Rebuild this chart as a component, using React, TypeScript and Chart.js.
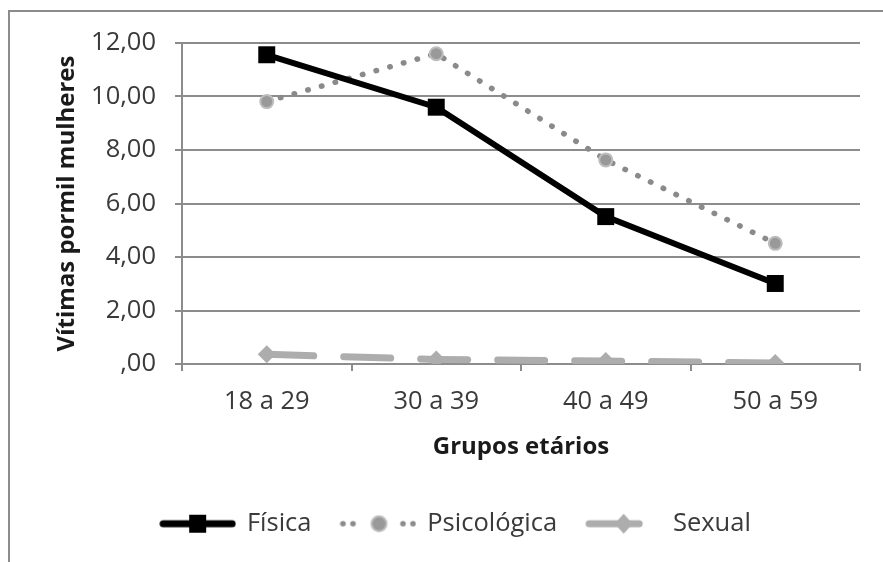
import React, { useEffect, useRef } from "react";
import { Chart, registerables } from "chart.js";

Chart.register(...registerables);

const categories = ["18 a 29", "30 a 39", "40 a 49", "50 a 59"];
const fisica = [11.56, 9.6, 5.51, 3.01];
const psicologica = [9.81, 11.6, 7.63, 4.51];
const sexual = [0.36, 0.17, 0.11, 0.04];
const seriesNames = ["Física", "Psicológica", "Sexual"];
const yTickLabels = [",00", "2,00", "4,00", "6,00", "8,00", "10,00", "12,00"];
const yTitle = "Vítimas pormil mulheres";
const xTitle = "Grupos etários";

const FONT = "'Open Sans', 'Noto Sans', sans-serif";
const GRID = "#8c8c8c";
const TEXT = "#3a3a3a";
const TITLE = "#1a1a1a";
const C_FIS = "#000000";
const C_PSI_LINE = "#8a8a8a";
const C_PSI_PT = "#999999";
const C_PSI_RING = "#bdbdbd";
const C_SEX = "#adadad";

function makeSample(kind: number): HTMLCanvasElement {
  const w = 77, h = 26;
  const c = document.createElement("canvas");
  c.width = w;
  c.height = h;
  const ctx = c.getContext("2d")!;
  const cy = h / 2;
  const cx = w / 2;
  if (kind === 0) {
    ctx.strokeStyle = C_FIS;
    ctx.lineWidth = 7;
    ctx.lineCap = "round";
    ctx.beginPath();
    ctx.moveTo(4, cy);
    ctx.lineTo(w - 4, cy);
    ctx.stroke();
    ctx.fillStyle = C_FIS;
    ctx.fillRect(cx - 8.5, cy - 9, 17, 18);
  } else if (kind === 1) {
    ctx.fillStyle = C_PSI_LINE;
    [-35, -25, 25, 35].forEach((d) => {
      ctx.beginPath();
      ctx.arc(cx + d, cy, 2.8, 0, Math.PI * 2);
      ctx.fill();
    });
    ctx.beginPath();
    ctx.arc(cx + 1, cy, 8.5, 0, Math.PI * 2);
    ctx.fillStyle = C_PSI_RING;
    ctx.fill();
    ctx.beginPath();
    ctx.arc(cx + 1, cy, 6.5, 0, Math.PI * 2);
    ctx.fillStyle = C_PSI_PT;
    ctx.fill();
  } else {
    ctx.strokeStyle = C_SEX;
    ctx.lineWidth = 7;
    ctx.lineCap = "round";
    ctx.beginPath();
    ctx.moveTo(4, cy);
    ctx.lineTo(54, cy);
    ctx.stroke();
    ctx.fillStyle = C_SEX;
    ctx.beginPath();
    ctx.moveTo(cx, cy - 10);
    ctx.lineTo(cx + 9, cy);
    ctx.lineTo(cx, cy + 10);
    ctx.lineTo(cx - 9, cy);
    ctx.closePath();
    ctx.fill();
  }
  return c;
}

export default function App() {
  const ref = useRef<HTMLCanvasElement | null>(null);

  useEffect(() => {
    if (!ref.current) return;
    const samples = [makeSample(0), makeSample(1), makeSample(2)];
    const padLeft = 52;
    const chart = new Chart(ref.current, {
      type: "line",
      data: {
        labels: categories,
        datasets: [
          {
            label: seriesNames[0],
            data: fisica,
            borderColor: C_FIS,
            backgroundColor: C_FIS,
            borderWidth: 6,
            pointStyle: "rect",
            pointRadius: 12,
            pointBackgroundColor: C_FIS,
            pointBorderColor: C_FIS,
            pointBorderWidth: 0,
            tension: 0,
          },
          {
            label: seriesNames[1],
            data: psicologica,
            borderColor: C_PSI_LINE,
            backgroundColor: C_PSI_PT,
            borderWidth: 5.5,
            borderDash: [0.5, 13.7],
            borderCapStyle: "round",
            pointStyle: "circle",
            pointRadius: 6.5,
            pointBackgroundColor: C_PSI_PT,
            pointBorderColor: C_PSI_RING,
            pointBorderWidth: 2,
            tension: 0,
          },
          {
            label: seriesNames[2],
            data: sexual,
            borderColor: C_SEX,
            backgroundColor: C_SEX,
            borderWidth: 7,
            borderDash: [47, 30],
            borderCapStyle: "round",
            pointStyle: "rectRot",
            pointRadius: 9,
            pointBackgroundColor: C_SEX,
            pointBorderColor: C_SEX,
            pointBorderWidth: 0,
            tension: 0,
          },
        ],
      },
      options: {
        responsive: false,
        animation: false,
        events: [],
        layout: { padding: { left: padLeft, right: 23, top: 43, bottom: 15.5 } },
        scales: {
          x: {
            type: "category",
            offset: true,
            grid: {
              offset: true,
              drawOnChartArea: false,
              drawTicks: true,
              tickLength: 7,
              color: GRID,
              lineWidth: 2,
            },
            border: { display: true, color: GRID, width: 2 },
            ticks: {
              font: { family: FONT, size: 25.5 },
              color: TEXT,
              padding: 15.7,
              maxRotation: 0,
            },
            title: {
              display: true,
              text: xTitle,
              font: { family: FONT, size: 24, weight: "bold" },
              color: TITLE,
              padding: { top: 0, bottom: 19.6 },
            },
            afterFit: (s: any) => {
              s.height = 117;
            },
          },
          y: {
            min: 0,
            max: 12,
            grid: {
              color: GRID,
              lineWidth: 2,
              tickLength: 7,
              drawTicks: true,
            },
            border: { display: true, color: GRID, width: 2 },
            ticks: {
              stepSize: 2,
              font: { family: FONT, size: 25.5 },
              color: TEXT,
              padding: 19,
              callback: (_v: any, i: number) => yTickLabels[i],
            },
            title: {
              display: true,
              text: yTitle,
              font: { family: FONT, size: 24, weight: "bold" },
              color: TITLE,
              padding: { top: 0.6, bottom: 0 },
            },
            afterFit: (s: any) => {
              s.width = 182 - padLeft;
            },
          },
        },
        plugins: {
          tooltip: { enabled: false },
          legend: {
            display: true,
            position: "bottom",
            labels: {
              usePointStyle: true,
              pointStyleWidth: 73,
              font: { family: FONT, size: 25.5 },
              color: TEXT,
              padding: 30,
              generateLabels: (ch: any) => {
                const base = Chart.defaults.plugins.legend.labels.generateLabels(ch);
                return base.map((it: any, i: number) => ({
                  ...it,
                  pointStyle: samples[i],
                  fontColor: TEXT,
                }));
              },
            },
          },
        },
      },
    });
    return () => chart.destroy();
  }, []);

  return (
    <>
      <div
        style={{
          position: "fixed",
          left: 8,
          top: 10,
          width: 900,
          height: 600,
          borderTop: `2px solid ${GRID}`,
          borderLeft: `2px solid ${GRID}`,
          boxSizing: "border-box",
        }}
      />
      <canvas
        ref={ref}
        width={883}
        height={562}
        style={{ position: "fixed", left: 0, top: 0, width: 883, height: 562 }}
      />
    </>
  );
}
